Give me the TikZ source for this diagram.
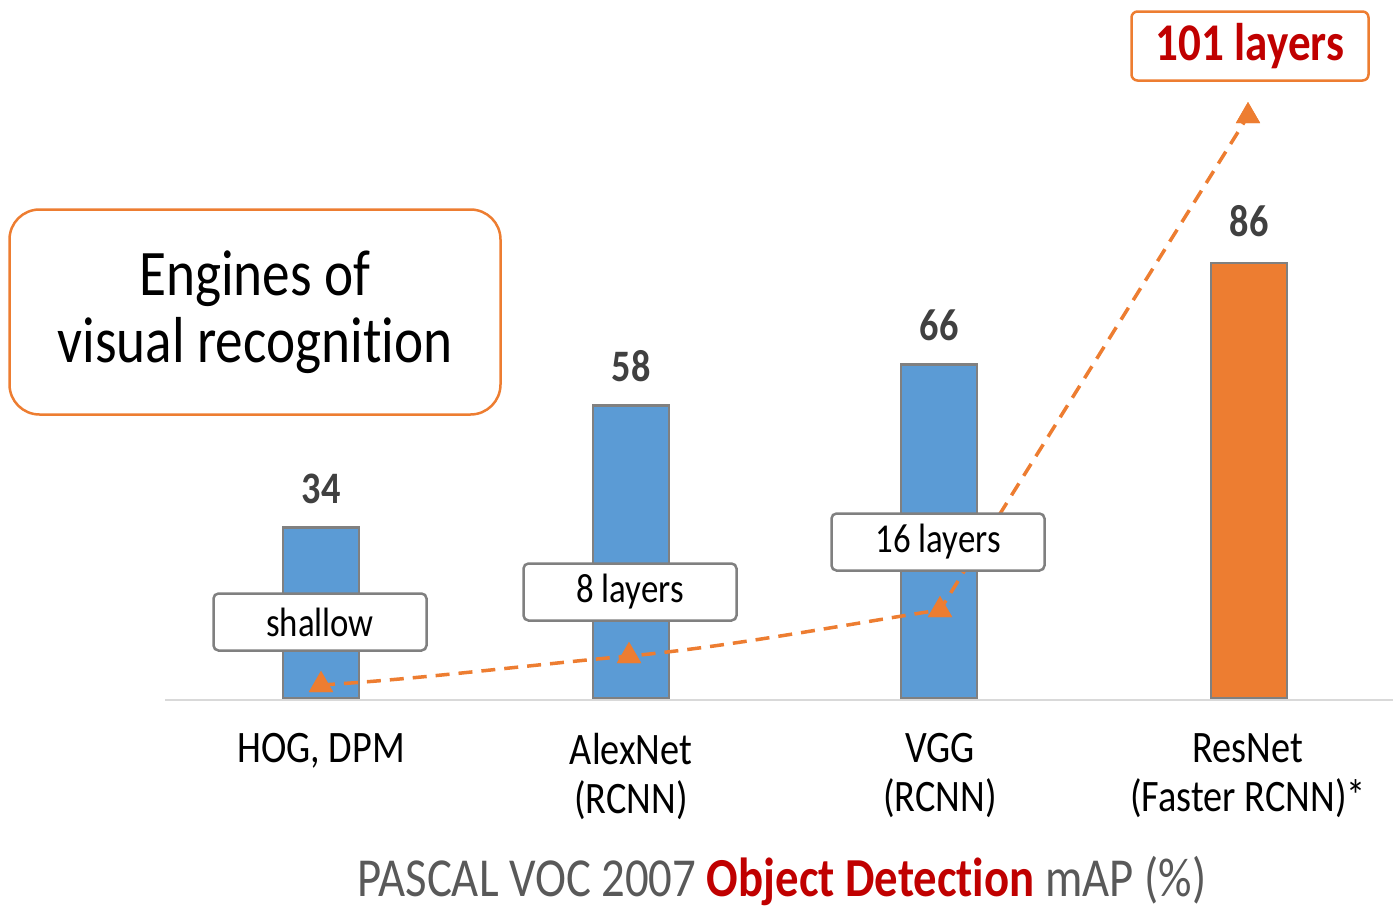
\documentclass[tikz,border=0pt]{standalone}
\usepackage{fontspec}
\setmainfont{Carlito}[FakeStretch=0.85, Ligatures=NoCommon]
\usetikzlibrary{arrows.meta, positioning, shapes.geometric}
\usepackage{xcolor}
\definecolor{barblue}{RGB}{91, 155, 213}
\definecolor{barorange}{RGB}{237, 125, 49}
\definecolor{edgegray}{RGB}{128, 128, 128}
\definecolor{valgray}{RGB}{64, 64, 64}
\definecolor{titlegray}{RGB}{89, 89, 89}
\definecolor{hotred}{RGB}{192, 0, 0}
\definecolor{axisgray}{RGB}{217, 217, 217}

\begin{document}
\begin{tikzpicture}[
  x=1pt, y=-1pt,
  bar/.style={rectangle, draw=edgegray, line width=2.5pt, fill=barblue,
              minimum width=76pt, inner sep=0pt},
  vallabel/.style={font=\fontsize{45}{48}\selectfont\bfseries, text=valgray, inner sep=0pt},
  catlabel/.style={font=\fontsize{45}{49}\selectfont, align=center, inner sep=0pt, anchor=north},
  layerbox/.style={rectangle, draw=edgegray, line width=2.5pt, rounded corners=5pt, fill=white,
                   minimum width=213pt, minimum height=57pt, font=\fontsize{41}{44}\selectfont},
  topbox/.style={rectangle, draw=barorange, line width=2.5pt, rounded corners=6pt, fill=white,
                 minimum width=237pt, minimum height=69pt, text=hotred,
                 font=\fontsize{53}{56}\selectfont\bfseries},
  enginebox/.style={rectangle, draw=barorange, line width=2.5pt, rounded corners=30pt,
                    minimum width=491pt, minimum height=205pt, align=center,
                    font=\fontsize{65}{67}\selectfont},
  marker/.style={regular polygon, regular polygon sides=3, fill=barorange,
                 minimum size=28pt, inner sep=0pt},
  trend/.style={draw=barorange, line width=3.5pt, dash pattern=on 14pt off 9pt}
]
  \useasboundingbox (0,0) rectangle (1393,908);

  % title box
  \node[enginebox] (engines) at (255,312) {Engines of\\visual recognition};

  % axis
  \coordinate (axl) at (165,700);
  \coordinate (axr) at (1393,700);
  \draw[axisgray, line width=2pt] (axl) -- (axr);

  % bars
  \foreach \nm/\xc/\val in {hog/321/34, alex/631/58, vgg/939/66}{
    \pgfmathsetmacro{\hgt}{5.085*\val-2.5}
    \node[bar, minimum height=\hgt pt, anchor=south] (\nm) at (\xc,699) {};
    \node[vallabel, anchor=base] (\nm-val) at ([yshift=23pt]\nm.north) {\val};
  }
  \pgfmathsetmacro{\hgt}{5.085*86-2.5}
  \node[bar, fill=barorange, minimum height=\hgt pt, anchor=south] (res) at (1249,699) {};
  \node[vallabel, anchor=base] (res-val) at ([yshift=25pt]res.north) {86};

  % depth trend
  \node[marker] (t1) at (321,685) {};
  \node[marker] (t2) at (629,656) {};
  \node[marker] (t3) at (940,610) {};
  \node[marker] (t4) at (1248,116) {};
  \draw[trend] (t1.center) .. controls +(100,-6) and +(-100,9) .. (t2.center)
    .. controls +(100,-9) and +(-80,12) .. (t3.center) -- (t4.center);
  \foreach \t in {t1, t2, t3, t4}
    \node[marker] at (\t) {};

  \node[layerbox] (shallow) at (320,622) {shallow};
  \node[layerbox] (eight) at (630,592) {8 layers};
  \node[layerbox] (sixteen) at (938,542) {16 layers};
  \node[topbox] (deep) at (1250,46) {101 layers};

  % categories
  \node[catlabel] (hog-cat) at (321,733) {HOG, DPM};
  \node[catlabel] (alex-cat) at (631,733) {AlexNet\\(RCNN)};
  \node[catlabel] (vgg-cat) at (940,733) {VGG\\(RCNN)};
  \node[catlabel] (res-cat) at (1248,733) {ResNet\\(Faster RCNN)*};

  \node[font=\fontsize{55}{58}\selectfont, text=titlegray] (caption) at (782,881)
    {PASCAL VOC 2007 {\bfseries\color{hotred}Object Detection} mAP (\%)};
\end{tikzpicture}
\end{document}
